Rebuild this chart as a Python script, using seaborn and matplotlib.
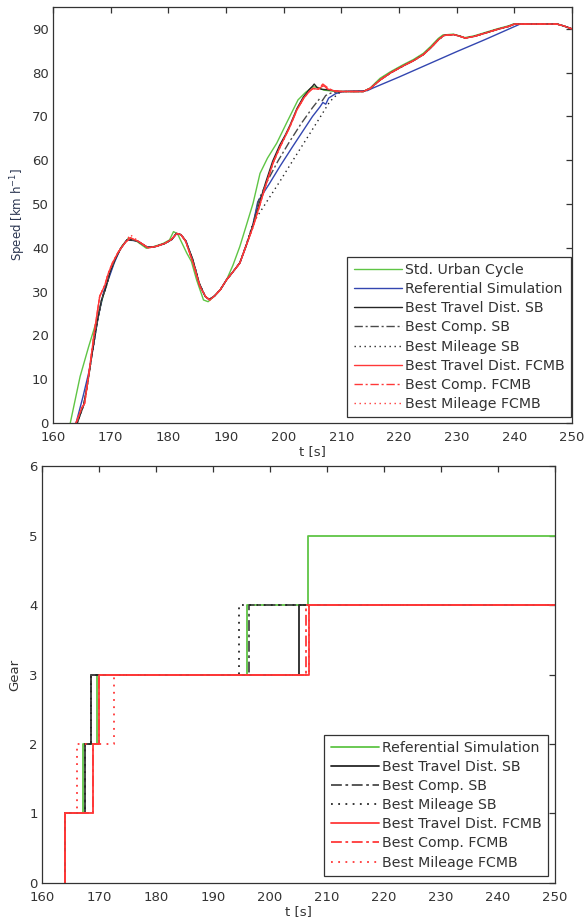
import numpy as np
import pandas as pd
import matplotlib
matplotlib.use("Agg")
import matplotlib.pyplot as plt
import seaborn as sns

# ---------------- speed traces [km/h] over time [s] ----------------
urban_t = [163.0, 164.7, 166.2, 167.6, 169.0, 169.9, 171.0, 172.0, 173.1, 174.5, 176.2, 177.5,
           179.1, 180.2, 180.9, 181.6, 182.4, 183.2, 184.0, 184.9, 186.1, 186.9, 188.0, 189.0,
           190.1, 191.2, 192.4, 193.5, 194.7, 195.9, 197.2, 198.8, 200.5, 202.5, 203.8, 205.1,
           206.0, 207.0, 208.5, 209.8, 213.8, 215.0, 216.7, 218.5, 220.7, 222.5, 224.2, 225.5,
           226.8, 227.6, 229.4, 230.5, 231.4, 233.0, 235.0, 237.0, 239.0, 239.8, 247.4, 248.5, 250.0]
urban_v = [0.0, 10.6, 17.5, 23.5, 30.5, 34.2, 38.0, 40.5, 42.2, 41.5, 39.9, 40.3,
           41.0, 41.8, 43.7, 43.2, 41.0, 38.8, 36.9, 32.7, 28.1, 27.7, 29.0, 30.4,
           32.7, 36.0, 40.3, 45.0, 50.2, 57.0, 60.5, 63.9, 68.5, 73.8, 75.5, 76.8,
           76.6, 76.0, 75.8, 75.7, 75.7, 76.5, 78.7, 80.2, 81.8, 83.0, 84.4, 86.0,
           87.8, 88.6, 88.8, 88.4, 88.0, 88.4, 89.2, 90.0, 90.7, 91.1, 91.1, 90.7, 90.0]

ref_t = [164.0, 165.2, 166.2, 167.0, 167.8, 168.8, 169.8, 170.6, 171.6, 172.8, 174.6, 176.4,
         177.8, 179.4, 180.6, 181.4, 182.2, 183.1, 184.3, 185.4, 186.4, 187.1, 188.0, 189.0,
         190.1, 191.2, 192.4, 193.5, 194.6, 195.5, 197.5, 199.4, 201.5, 203.5, 205.0, 206.3,
         206.8, 207.3, 207.8, 209.0, 210.3, 214.5, 215.5, 220.0, 225.0, 230.0, 235.0, 241.0,
         247.4, 248.5, 250.0]
ref_v = [0.0, 6.0, 11.5, 17.5, 24.0, 30.0, 33.5, 36.5, 39.5, 41.8, 41.6, 40.1,
         40.3, 41.0, 41.9, 43.2, 43.0, 41.5, 36.8, 31.5, 28.9, 28.2, 29.0, 30.4,
         32.7, 34.5, 36.5, 40.4, 44.8, 50.5, 54.6, 58.7, 63.0, 67.0, 70.0, 72.2,
         73.2, 72.8, 74.2, 75.2, 75.7, 75.9, 76.5, 79.0, 81.9, 84.8, 87.6, 91.1,
         91.1, 90.7, 90.0]

# cruise section shared by the optimised SB / FCMB runs
cruise_t = [213.8, 215.0, 216.8, 218.6, 220.8, 222.6, 224.3, 225.6, 226.9, 227.8, 229.5,
            230.6, 231.5, 233.1, 235.1, 237.1, 239.1, 240.0, 247.4, 248.5, 250.0]
cruise_v = [75.7, 76.4, 78.4, 80.0, 81.6, 82.8, 84.2, 85.8, 87.6, 88.5, 88.7,
            88.3, 87.9, 88.3, 89.1, 89.9, 90.6, 91.1, 91.1, 90.7, 90.0]

sb_dist_t = [164.2, 165.3, 166.0, 166.8, 167.6, 168.4, 169.2, 169.9, 170.8, 171.8, 172.9, 174.6,
             176.4, 177.8, 179.4, 180.6, 181.4, 182.2, 183.0, 184.2, 185.4, 186.4, 187.1, 188.0,
             189.0, 190.1, 191.2, 192.4, 193.5, 194.6, 195.7, 196.9, 198.1, 199.3, 200.3, 201.1,
             202.3, 203.4, 204.4, 205.0, 205.3, 205.8, 206.6, 207.6, 208.6, 209.8]
sb_dist_v = [0.0, 4.0, 9.0, 16.0, 22.5, 28.0, 31.0, 34.5, 37.5, 40.0, 41.9, 41.6,
             40.1, 40.3, 41.0, 41.9, 43.3, 43.0, 41.6, 37.5, 31.8, 28.9, 28.2, 29.0,
             30.4, 32.7, 34.5, 36.6, 40.6, 44.9, 49.8, 55.0, 59.8, 63.4, 65.8, 68.0,
             71.8, 74.4, 76.1, 76.9, 77.4, 76.6, 76.2, 76.1, 75.9, 75.7]

sb_comp_t = [164.2, 165.3, 166.0, 166.8, 167.6, 168.4, 169.2, 169.9, 170.8, 171.8, 172.9, 174.6,
             176.4, 177.8, 179.4, 180.6, 181.4, 182.2, 183.0, 184.2, 185.4, 186.4, 187.1, 188.0,
             189.0, 190.1, 191.2, 192.4, 193.5, 194.6, 195.7, 197.0, 199.0, 201.0, 203.0, 205.0,
             206.2, 206.7, 207.3, 208.3, 209.8]
sb_comp_v = [0.0, 4.0, 9.0, 16.0, 22.5, 28.0, 31.0, 34.5, 37.5, 40.0, 41.9, 41.6,
             40.1, 40.3, 41.0, 41.9, 43.3, 43.0, 41.6, 37.5, 31.8, 28.9, 28.2, 29.0,
             30.4, 32.7, 34.5, 36.6, 40.6, 44.9, 51.0, 54.8, 59.8, 64.2, 68.3, 72.0,
             74.0, 73.6, 74.8, 75.4, 75.7]

sb_mile_t = [164.2, 165.3, 166.0, 166.8, 167.6, 168.4, 169.2, 169.9, 170.8, 171.8, 172.9, 174.6,
             176.4, 177.8, 179.4, 180.6, 181.4, 182.2, 183.0, 184.2, 185.4, 186.4, 187.1, 188.0,
             189.0, 190.1, 191.2, 192.4, 193.5, 194.7, 197.0, 199.5, 202.0, 204.5, 206.5, 208.0,
             209.5, 210.5]
sb_mile_v = [0.0, 4.0, 9.0, 16.0, 22.5, 28.0, 31.0, 34.5, 37.5, 40.0, 41.9, 41.6,
             40.1, 40.3, 41.0, 41.9, 43.3, 43.0, 41.6, 37.5, 31.8, 28.9, 28.2, 29.0,
             30.4, 32.7, 34.5, 36.6, 40.6, 45.7, 50.4, 55.5, 60.8, 66.0, 70.2, 73.4,
             75.3, 75.7]

fc_dist_t = [164.0, 165.0, 165.5, 166.3, 167.2, 168.1, 169.0, 169.6, 170.3, 171.3, 172.4, 173.4,
             174.8, 176.5, 177.8, 179.4, 180.5, 181.5, 182.2, 183.0, 184.3, 185.5, 186.5, 187.2,
             188.0, 189.0, 190.1, 191.2, 192.4, 193.5, 194.7, 195.8, 197.0, 198.2, 199.4, 200.3,
             201.1, 202.3, 203.5, 204.5, 205.1, 206.0, 206.6, 207.0, 207.6, 208.6, 209.8]
fc_dist_v = [0.0, 3.5, 4.5, 12.0, 21.0, 28.9, 31.5, 34.2, 36.5, 39.0, 41.0, 42.3,
             41.5, 40.0, 40.3, 41.0, 41.9, 43.3, 43.0, 41.5, 36.5, 31.1, 28.8, 28.1,
             29.0, 30.4, 32.7, 34.5, 36.5, 40.5, 44.8, 49.5, 54.7, 59.5, 63.1, 65.5,
             67.7, 71.5, 74.2, 75.8, 76.4, 76.2, 76.8, 77.0, 76.3, 75.9, 75.7]

fc_comp_t = [164.0, 165.0, 165.5, 166.3, 167.2, 168.1, 169.0, 169.6, 170.3, 171.3, 172.4, 173.4,
             174.8, 176.5, 177.8, 179.4, 180.5, 181.5, 182.2, 183.0, 184.3, 185.5, 186.5, 187.2,
             188.0, 189.0, 190.1, 191.2, 192.4, 193.5, 194.7, 195.8, 197.0, 198.2, 199.4, 200.3,
             201.1, 202.3, 203.5, 204.5, 205.1, 206.0, 206.8, 207.3, 207.8, 208.6, 209.8]
fc_comp_v = [0.0, 3.5, 4.5, 12.0, 21.0, 28.9, 31.5, 34.2, 36.5, 39.0, 41.0, 42.3,
             41.5, 40.0, 40.3, 41.0, 41.9, 43.3, 43.0, 41.5, 36.5, 31.1, 28.8, 28.1,
             29.0, 30.4, 32.7, 34.5, 36.5, 40.5, 44.8, 49.5, 54.7, 59.5, 63.1, 65.5,
             67.7, 71.5, 74.2, 75.8, 76.4, 76.3, 77.4, 76.9, 76.4, 75.9, 75.7]

fc_mile_t = [164.0, 165.0, 165.5, 166.3, 167.2, 168.1, 169.0, 169.6, 170.3, 171.3, 172.4, 173.4,
             174.8, 176.5, 177.8, 179.4, 180.5, 181.5, 182.2, 183.0, 184.3, 185.5, 186.5, 187.2,
             188.0, 189.0, 190.1, 191.2, 192.4, 193.5, 194.7, 195.8, 197.0, 198.2, 199.4, 200.3,
             201.1, 202.3, 203.5, 204.5, 205.1, 206.0, 206.6, 207.0, 207.6, 208.6, 209.8]
fc_mile_v = [0.0, 3.5, 4.5, 12.0, 21.0, 28.9, 31.5, 34.2, 36.5, 39.0, 41.0, 43.0,
             41.5, 40.0, 40.3, 41.0, 41.9, 43.3, 43.0, 41.5, 36.5, 31.1, 28.8, 28.1,
             29.0, 30.4, 32.7, 34.5, 36.5, 40.5, 44.8, 49.5, 54.7, 59.5, 63.1, 65.5,
             67.7, 71.5, 74.2, 75.8, 76.4, 76.2, 76.9, 77.1, 76.3, 75.9, 75.7]

# ---------------- gear shift schedules ----------------
ref_gear_t = [164.0, 164.0, 167.2, 169.6, 196.0, 206.7, 250.0]
ref_gear = [0, 1, 2, 3, 4, 5, 5]
sb_dist_gear_t = [164.0, 164.0, 167.6, 168.6, 205.1, 250.0]
sb_dist_gear = [0, 1, 2, 3, 4, 4]
sb_comp_gear_t = [164.0, 164.0, 167.6, 168.6, 196.4, 250.0]
sb_comp_gear = [0, 1, 2, 3, 4, 4]
sb_mile_gear_t = [164.0, 164.0, 167.6, 168.6, 194.6, 250.0]
sb_mile_gear = [0, 1, 2, 3, 4, 4]
fc_dist_gear_t = [164.0, 164.0, 169.0, 170.0, 206.8, 250.0]
fc_dist_gear = [0, 1, 2, 3, 4, 4]
fc_comp_gear_t = [164.0, 164.0, 169.0, 170.0, 206.3, 250.0]
fc_comp_gear = [0, 1, 2, 3, 4, 4]
fc_mile_gear_t = [164.0, 164.0, 166.1, 172.7, 206.8, 250.0]
fc_mile_gear = [0, 1, 2, 3, 4, 4]

labels_speed = ["Std. Urban Cycle", "Referential Simulation", "Best Travel Dist. SB",
                "Best Comp. SB", "Best Mileage SB", "Best Travel Dist. FCMB",
                "Best Comp. FCMB", "Best Mileage FCMB"]
labels_gear = labels_speed[1:]

GREEN = "#5fc545"
BLUE = "#3346b0"
BLACK = "#262626"
GREY = "#4a4a4a"
RED = "#ff3838"

sns.set_style("white")
plt.rcParams["font.family"] = ["DejaVu Sans"]

fig = plt.figure(figsize=(5.86, 9.19), dpi=100)
ax1 = fig.add_axes([0.0904, 0.5397, 0.8857, 0.4527])
ax2 = fig.add_axes([0.0717, 0.0392, 0.8754, 0.4537])


def draw(ax, t, v, color, ls, lw, label, **kw):
    sns.lineplot(x=t, y=v, ax=ax, color=color, linestyle=ls, linewidth=lw,
                 estimator=None, sort=False, label=label, legend=False, **kw)


speed_series = [
    (urban_t, urban_v, GREEN, "-"),
    (ref_t, ref_v, BLUE, "-"),
    (sb_dist_t + cruise_t, sb_dist_v + cruise_v, BLACK, "-"),
    (sb_comp_t + cruise_t, sb_comp_v + cruise_v, GREY, (0, (6, 2, 1.5, 2))),
    (sb_mile_t + cruise_t, sb_mile_v + cruise_v, BLACK, (0, (1, 2.6))),
    (fc_dist_t + cruise_t, fc_dist_v + cruise_v, RED, "-"),
    (fc_comp_t + cruise_t, fc_comp_v + cruise_v, RED, (0, (6, 2, 1.5, 2))),
    (fc_mile_t + cruise_t, fc_mile_v + cruise_v, RED, (0, (1, 2.6))),
]
for (t, v, c, ls), lab in zip(speed_series, labels_speed):
    draw(ax1, t, v, c, ls, 1.0, lab)

gear_series = [
    (ref_gear_t, ref_gear, GREEN, "-"),
    (sb_dist_gear_t, sb_dist_gear, BLACK, "-"),
    (sb_comp_gear_t, sb_comp_gear, GREY, (0, (6, 2, 1.5, 2))),
    (sb_mile_gear_t, sb_mile_gear, BLACK, (0, (1, 3))),
    (fc_dist_gear_t, fc_dist_gear, RED, "-"),
    (fc_comp_gear_t, fc_comp_gear, RED, (0, (6, 2, 1.5, 2))),
    (fc_mile_gear_t, fc_mile_gear, RED, (0, (1, 3))),
]
for (t, g, c, ls), lab in zip(gear_series, labels_gear):
    draw(ax2, t, g, c, ls, 1.3, lab, drawstyle="steps-post")

TXT = "#333333"
for ax in (ax1, ax2):
    ax.set_xlim(160, 250)
    ax.set_xticks(np.arange(160, 251, 10))
    ax.tick_params(direction="in", length=4, width=0.9, top=True, right=True,
                   labelsize=9.5, colors=TXT, pad=3)
    ax.tick_params(axis="x", pad=5.5)
    for sp in ax.spines.values():
        sp.set_color(TXT)
        sp.set_linewidth(0.9)
    ax.set_xlabel("t [s]", fontsize=9.5, color=TXT, labelpad=1)

ax1.set_ylim(0, 95)
ax1.set_yticks(np.arange(0, 91, 10))
ax1.set_ylabel(r"Speed [km h$^{\mathregular{-1}}$]", fontsize=8.5, color="#2a3550", labelpad=3)

ax2.set_ylim(0, 6)
ax2.set_yticks(np.arange(0, 7, 1))
ax2.set_ylabel("Gear", fontsize=9.5, color=TXT, labelpad=6)

leg_kw = dict(frameon=True, fancybox=False, framealpha=1, edgecolor=TXT,
              fontsize=10.2, handlelength=3.4, handletextpad=0.2, labelspacing=0.36,
              borderpad=0.45, borderaxespad=0, labelcolor=TXT)
l1 = ax1.legend(handles=ax1.get_lines(), labels=labels_speed, loc="lower right",
                bbox_to_anchor=(0.998, 0.014), **leg_kw)
l2 = ax2.legend(handles=ax2.get_lines(), labels=labels_gear, loc="lower right",
                bbox_to_anchor=(0.986, 0.017), **leg_kw)
for lg in (l1, l2):
    lg.get_frame().set_linewidth(0.9)

fig.savefig("out.png", dpi=100, facecolor="white")
